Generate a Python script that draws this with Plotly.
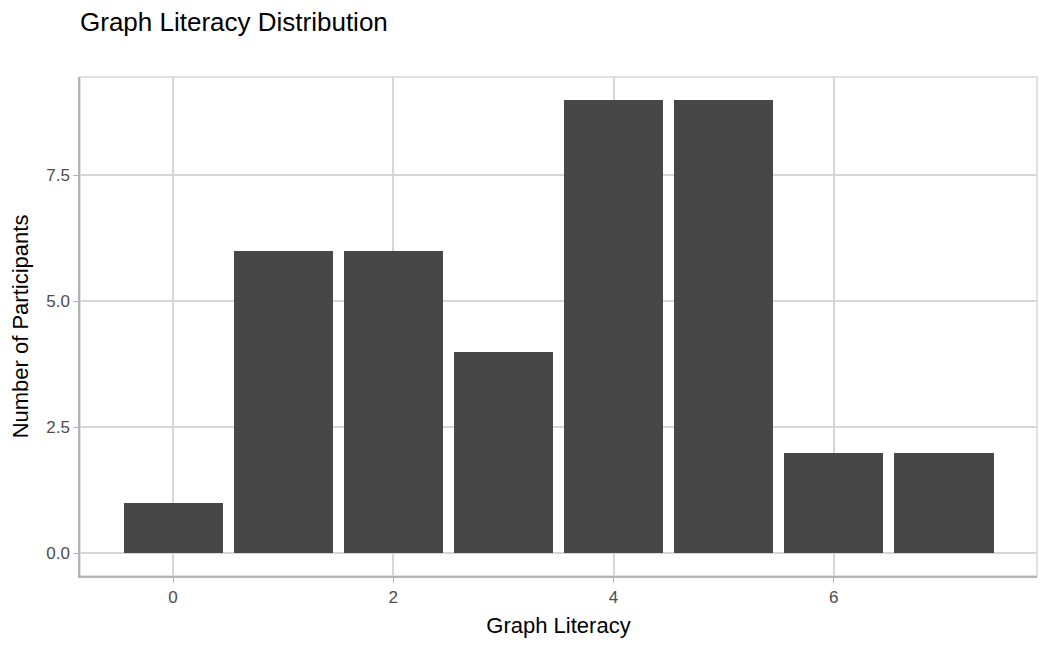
import plotly.graph_objects as go

# graph literacy score and how many participants got it
scores = [0, 1, 2, 3, 4, 5, 6, 7]
counts = [1, 6, 6, 4, 9, 9, 2, 2]

x_ticks = [0, 2, 4, 6]
y_ticks = [0, 2.5, 5, 7.5]
y_labels = ["0.0", "2.5", "5.0", "7.5"]

fig = go.Figure()
fig.add_trace(go.Bar(x=scores, y=counts, width=0.9,
                     marker=dict(color="#474747", line=dict(width=0))))

# page is drawn with an 8px body margin, so margins are shifted to match
grid = "#d6d6d6"
fig.update_layout(
    width=1050, height=648,
    margin=dict(l=72, r=21, t=69, b=80),
    plot_bgcolor="white", paper_bgcolor="white",
    font=dict(family="Liberation Sans, Arial, sans-serif", color="#000000"),
    title=dict(text="Graph Literacy Distribution", x=72 / 1050, xanchor="left",
               y=1 - 14 / 648, yanchor="middle", font=dict(size=26)),
    showlegend=False,
    bargap=0,
)
fig.update_xaxes(
    range=[-0.845, 7.845], tickvals=x_ticks, ticks="outside", ticklen=5,
    tickcolor="#b3b3b3", tickfont=dict(size=17, color="#4d4d4d"),
    showgrid=True, gridcolor=grid, gridwidth=1.5, zeroline=False,
    showline=True, linecolor="#b3b3b3", linewidth=1.5, mirror=False,
    automargin=False,
    title=dict(text="Graph Literacy", font=dict(size=22), standoff=11),
)
fig.update_yaxes(
    range=[-0.45, 9.45], tickvals=y_ticks, ticktext=y_labels, ticks="outside",
    ticklen=5, tickcolor="#b3b3b3", tickfont=dict(size=17, color="#4d4d4d"),
    showgrid=True, gridcolor=grid, gridwidth=1.5, zeroline=False,
    showline=True, linecolor="#b3b3b3", linewidth=1.5, mirror=False,
    automargin=False,
    title=dict(text="Number of Participants", font=dict(size=22), standoff=20),
)
# lighter border on top and right like the panel outline
fig.add_shape(type="rect", xref="paper", yref="paper", x0=0, y0=0, x1=1, y1=1,
              line=dict(color="#d6d6d6", width=1.5), layer="below")

fig.write_html("out.html")
